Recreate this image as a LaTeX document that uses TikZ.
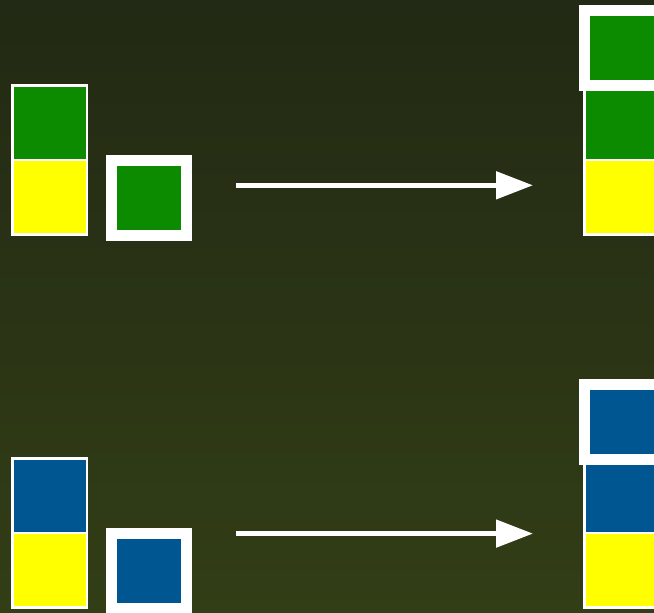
\documentclass[tikz,border=0pt]{standalone}
\usetikzlibrary{arrows.meta}
\definecolor{bgtop}{RGB}{34,41,20}
\definecolor{bgbot}{RGB}{50,62,22}
\definecolor{cgreen}{RGB}{12,138,0}
\definecolor{cyellow}{RGB}{255,255,0}
\definecolor{cblue}{RGB}{0,86,145}
\tikzset{
  cell/.style={draw=white, line width=2.5pt, minimum width=74.5pt, minimum height=74.5pt, inner sep=0pt, outer sep=0pt},
  boxed/.style={draw=white, line width=11pt, minimum width=75pt, minimum height=75pt, inner sep=0pt, outer sep=0pt},
  conn/.style={draw=white, line width=5pt, -{Triangle[length=37pt,width=27pt]}}
}
\begin{document}
\begin{tikzpicture}[x=1pt,y=-1pt]
\useasboundingbox (0,0) rectangle (654,613);
\shade[top color=bgtop, bottom color=bgbot] (0,0) rectangle (654,613);
\begin{scope}
\clip (0,0) rectangle (654,613);
% top row
\node[cell, fill=cgreen] (tl1) at (49.5,122.75) {};
\node[cell, fill=cyellow] (tl2) at (49.5,197.25) {};
\node[boxed, fill=cgreen] (tb) at (149,197.6) {};
\node[cell, fill=cgreen] (tr1) at (621.5,122.75) {};
\node[cell, fill=cyellow] (tr2) at (621.5,197.25) {};
\node[boxed, fill=cgreen] (trb) at (622,48.2) {};
\coordinate (ta) at (236,185.3);
\coordinate (tz) at (533,185.3);
\draw[conn] (ta) -- (tz);
% bottom row
\node[cell, fill=cblue] (bl1) at (49.5,495.75) {};
\node[cell, fill=cyellow] (bl2) at (49.5,570.25) {};
\node[boxed, fill=cblue] (bb) at (149,570.6) {};
\node[cell, fill=cblue] (br1) at (621.5,495.75) {};
\node[cell, fill=cyellow] (br2) at (621.5,570.25) {};
\node[boxed, fill=cblue] (brb) at (622,421.7) {};
\coordinate (ba) at (236,533.6);
\coordinate (bz) at (533,533.6);
\draw[conn] (ba) -- (bz);
\end{scope}
\end{tikzpicture}
\end{document}
